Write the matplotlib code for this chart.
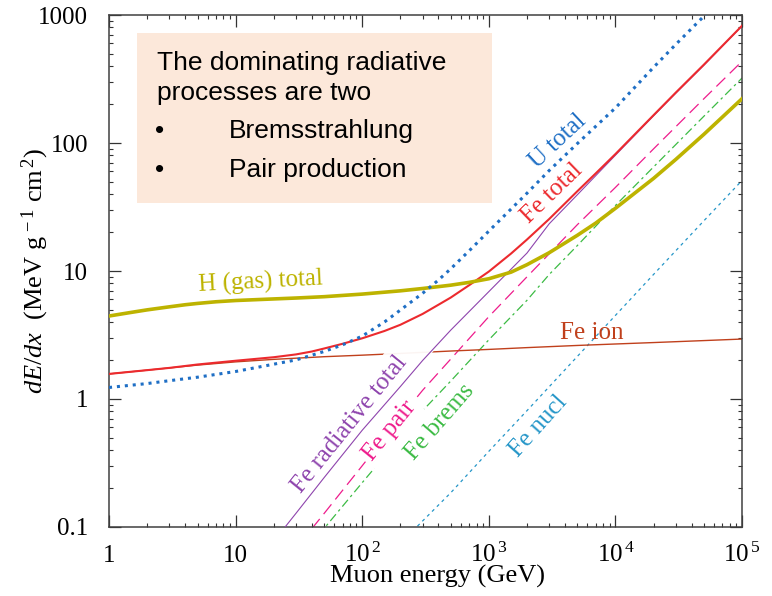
import matplotlib
matplotlib.use("Agg")
import matplotlib.pyplot as plt
from matplotlib.patches import Rectangle
from matplotlib.ticker import LogLocator, NullFormatter

# muon energy (GeV) and dE/dx (MeV g^-1 cm^2)
E_u = [1, 2, 3, 5, 10, 20, 30, 50, 70, 100, 150, 200, 300, 400, 500, 700, 1000, 2000, 3000, 5000, 1e4, 2e4, 3e4, 5e4, 1e5]
U_total = [1.23, 1.32, 1.39, 1.48, 1.64, 1.87, 2.02, 2.35, 2.65, 3.1, 4.0, 4.95, 6.7, 8.5, 10.4, 14.4, 20.5, 40.5, 61, 99, 188, 390, 590, 980, 1950]

E_fe = [1, 2, 3, 5, 10, 20, 30, 40, 50, 70, 100, 150, 200, 300, 400, 500, 700, 1000, 1500, 2000, 3000, 5000, 7000, 1e4, 2e4, 3e4, 5e4, 1e5]
Fe_total = [1.57, 1.68, 1.75, 1.86, 1.99, 2.12, 2.23, 2.35, 2.48, 2.7, 2.98, 3.4, 3.8, 4.62, 5.45, 6.2, 7.75, 9.9, 13.7, 17.6, 25.5, 42, 58, 82, 165, 248, 410, 825]

E_h = [1, 1.5, 2, 3, 4, 5, 7, 10, 15, 20, 30, 50, 100, 200, 300, 500, 700, 1000, 1500, 2000, 3000, 5000, 7000, 1e4, 2e4, 3e4, 5e4, 1e5]
H_total = [4.45, 4.75, 4.97, 5.25, 5.45, 5.58, 5.75, 5.88, 5.98, 6.05, 6.15, 6.3, 6.6, 7.0, 7.3, 7.75, 8.15, 8.7, 9.8, 11.2, 13.9, 19, 23.7, 30.9, 52.9, 74.5, 117, 222]

E_ion = [1, 2, 5, 10, 20, 50, 100, 200, 500, 1000, 2000, 5000, 1e4, 2e4, 5e4, 1e5]
Fe_ion = [1.57, 1.68, 1.84, 1.95, 2.04, 2.14, 2.2, 2.27, 2.37, 2.44, 2.52, 2.62, 2.69, 2.76, 2.86, 2.94]

E_rad = [20, 24.6, 30, 50, 100, 200, 300, 500, 1000, 2000, 3000, 5000, 1e4, 2e4, 3e4, 5e4, 1e5]
Fe_rad = [0.077, 0.1, 0.128, 0.243, 0.57, 1.25, 2.0, 3.45, 6.9, 13.8, 23.4, 39.4, 80.3, 163, 245, 405, 822]

E_pair = [40, 50, 100, 200, 300, 500, 1000, 2000, 5000, 1e4, 2e4, 5e4, 1e5]
Fe_pair = [0.097, 0.1275, 0.301, 0.716, 1.17, 2.05, 4.4, 9.0, 23, 45, 90, 222, 435]

E_brems = [45, 100, 200, 300, 500, 1000, 2000, 3000, 5000, 1e4, 2e4, 5e4, 1e5]
Fe_brems = [0.086, 0.222, 0.50, 0.81, 1.38, 2.9, 5.9, 9.4, 15.8, 32.5, 65, 162, 322]

E_nucl = [250, 500, 1000, 2000, 5000, 1e4, 2e4, 5e4, 1e5]
Fe_nucl = [0.093, 0.185, 0.39, 0.81, 2.15, 4.5, 9.4, 24.7, 51]

xticks = [1, 10, 100, 1000, 1e4, 1e5]
xlabels = ['1', '10', r'$10^{\,2}$', r'$10^{\,3}$', r'$10^{\,4}$', r'$10^{\,5}$']
yticks = [0.1, 1, 10, 100, 1000]
ylabels = ['0.1', '1', '10', '100', '1000']

plt.rcParams['font.family'] = ['Liberation Serif', 'DejaVu Serif']
plt.rcParams['mathtext.fontset'] = 'custom'
plt.rcParams['mathtext.rm'] = 'Liberation Serif'
plt.rcParams['mathtext.it'] = 'Liberation Serif:italic'

c_u = '#1f6fc5'
c_fe = '#ec2a2e'
c_h = '#bdb300'
c_ion = '#c0401c'
c_rad = '#8e44ad'
c_pair = '#ee1c8c'
c_brems = '#3cbb44'
c_nucl = '#2596c8'

fig = plt.figure(figsize=(7.72, 5.96), dpi=100)
ax = fig.add_axes([0.1412, 0.1158, 0.82, 0.859])
ax.set_xscale('log')
ax.set_yscale('log')

ax.plot(E_nucl, Fe_nucl, color=c_nucl, lw=0.9, ls=(0, (2.5, 3)), zorder=2)
ax.plot(E_brems, Fe_brems, color=c_brems, lw=0.9, ls=(0, (7, 3, 2, 3)), zorder=2)
ax.plot(E_pair, Fe_pair, color=c_pair, lw=0.9, ls=(0, (10, 5)), zorder=2)
ax.plot(E_ion, Fe_ion, color=c_ion, lw=1.0, zorder=2)
ax.plot(E_rad, Fe_rad, color=c_rad, lw=0.8, zorder=4)
ax.plot(E_fe, Fe_total, color=c_fe, lw=1.5, zorder=4)
ax.plot(E_h, H_total, color=c_h, lw=2.6, zorder=5)
ax.plot(E_u, U_total, color=c_u, lw=2.2, ls=(0, (1, 1.6)), zorder=6)

ax.set_xlim(1, 1e5)
ax.set_ylim(0.1, 1000)

# text box
ax.add_patch(Rectangle((0.0442, 0.633), 0.5608, 0.332, transform=ax.transAxes,
                       facecolor='#fce8da', edgecolor='none', zorder=1))
sans = 'Liberation Sans'
ax.text(0.0754, 0.8926, 'The dominating radiative', transform=ax.transAxes,
        family=sans, fontsize=19, va='baseline', zorder=7)
ax.text(0.0754, 0.834, 'processes are two', transform=ax.transAxes,
        family=sans, fontsize=19, va='baseline', zorder=7)
ax.text(0.0806, 0.759, '\u2022', transform=ax.transAxes, family=sans,
        fontsize=19, ha='center', va='baseline', zorder=7)
ax.text(0.190, 0.759, 'Bremsstrahlung', transform=ax.transAxes,
        family=sans, fontsize=19, va='baseline', zorder=7)
ax.text(0.0806, 0.6836, '\u2022', transform=ax.transAxes, family=sans,
        fontsize=19, ha='center', va='baseline', zorder=7)
ax.text(0.190, 0.6836, 'Pair production', transform=ax.transAxes,
        family=sans, fontsize=19, va='baseline', zorder=7)

# curve labels
lab = dict(fontsize=18, ha='center', va='center', rotation_mode='anchor')
white = dict(boxstyle='square,pad=0.15', fc='white', ec='none')
ax.text(15.9, 8.2, 'H (gas) total', color=c_h, rotation=3, **lab)
ax.text(3490, 104, 'U total', color=c_u, rotation=43, **lab)
ax.text(3186, 40.4, 'Fe total', color=c_fe, rotation=44, **lab)
# white patch behind this label cuts the Fe ion line, as in the original
ax.text(30.4, 0.1925, 'Fe radiative total      ', color=c_rad, rotation=51, zorder=3,
        fontsize=18, ha='left', va='center', rotation_mode='anchor',
        bbox=dict(boxstyle='square,pad=0.3', fc='white', ec='none', alpha=0.95))
ax.text(165, 0.56, 'Fe pair', color=c_pair, rotation=51, zorder=3, bbox=white, **lab)
ax.text(412, 0.655, 'Fe brems', color=c_brems, rotation=49, **lab)
ax.text(2448, 0.615, 'Fe nucl', color=c_nucl, rotation=48, **lab)
ax.text(6535, 2.94, 'Fe ion', color=c_ion, fontsize=18, ha='center', va='baseline')

ax.set_xticks(xticks)
ax.set_xticklabels(xlabels)
ax.set_yticks(yticks)
ax.set_yticklabels(ylabels)
ax.xaxis.set_minor_locator(LogLocator(base=10, subs=range(2, 10), numticks=20))
ax.yaxis.set_minor_locator(LogLocator(base=10, subs=range(2, 10), numticks=20))
ax.xaxis.set_minor_formatter(NullFormatter())
ax.yaxis.set_minor_formatter(NullFormatter())

ax.tick_params(which='both', direction='in', top=True, right=True, colors='#333333')
ax.tick_params(which='major', length=8.6, width=0.9, labelsize=18, labelcolor='black')
ax.tick_params(which='minor', length=3.2, width=0.8)
ax.tick_params(axis='y', which='major', pad=15)
ax.tick_params(axis='x', which='major', pad=25)
for t in ax.get_xticklabels():
    t.set_va('baseline')
for s in ax.spines.values():
    s.set_color('#404040')
    s.set_linewidth(1.1)

ax.set_xlabel('Muon energy (GeV)', fontsize=19)
ax.xaxis.set_label_coords(0.519, -0.074)
ax.set_ylabel(r'$dE/dx$  (MeV g$^{\,-1}$ cm$^{\,2}$)', fontsize=19)
ax.yaxis.set_label_coords(-0.092, 0.5)

fig.savefig('out.png', dpi=100)
